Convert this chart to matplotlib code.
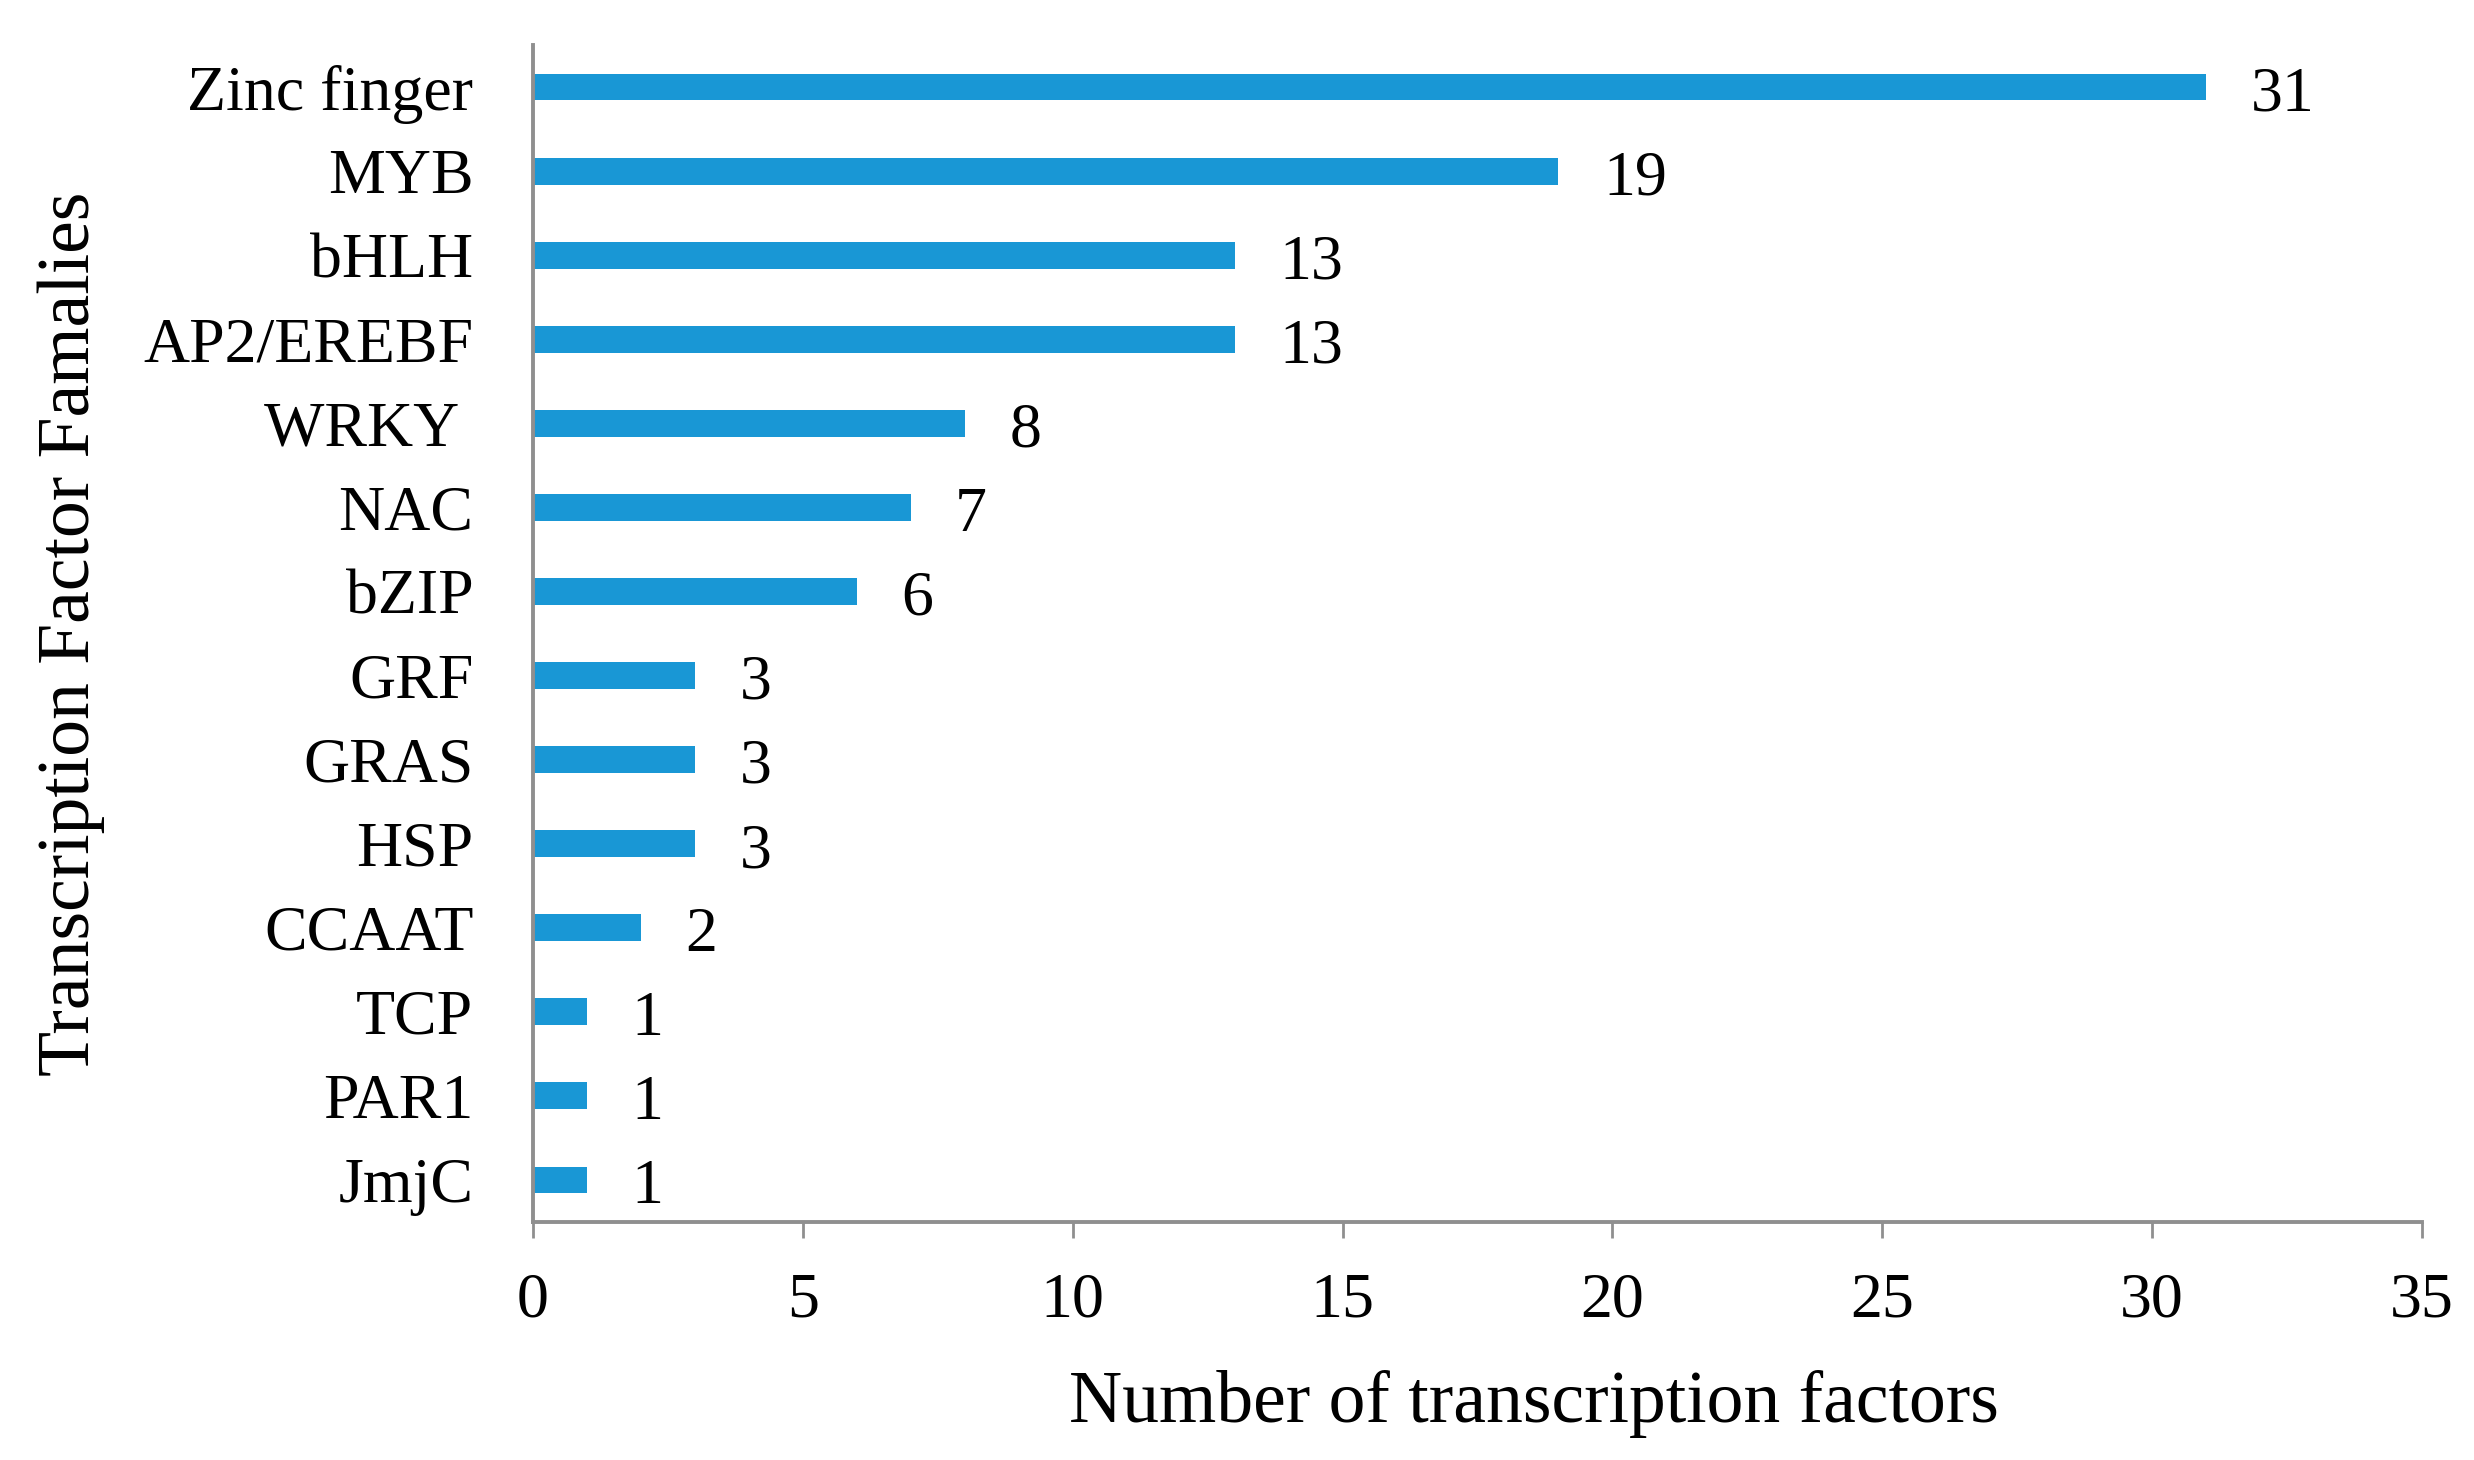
import matplotlib
matplotlib.use("Agg")
import matplotlib.pyplot as plt

# data (top to bottom)
families = ['Zinc finger', 'MYB', 'bHLH', 'AP2/EREBF', 'WRKY ', 'NAC', 'bZIP',
            'GRF', 'GRAS', 'HSP', 'CCAAT', 'TCP', 'PAR1', 'JmjC']
counts = [31, 19, 13, 13, 8, 7, 6, 3, 3, 3, 2, 1, 1, 1]
xticks = [0, 5, 10, 15, 20, 25, 30, 35]

plt.rcParams['font.family'] = ['Liberation Serif', 'DejaVu Serif']

fig = plt.figure(figsize=(24.74, 14.60), dpi=100)
ax = fig.add_axes([533 / 2474, 1 - 1222 / 1460, 1889 / 2474, 1177 / 1460])

pos = list(range(len(families)))
ax.barh(pos, counts, height=0.32, color='#1997D5')
for p, c in zip(pos, counts):
    ax.annotate(str(c), xy=(c, p), xytext=(32, -6), textcoords='offset points',
                ha='left', va='center', fontsize=46)

ax.set_xlim(0, 35)
ax.set_ylim(len(families) - 0.5, -0.5)
ax.set_xticks(xticks)
ax.set_yticks(pos)
ax.set_yticklabels(families)

for s in ['top', 'right']:
    ax.spines[s].set_visible(False)
for s in ['left', 'bottom']:
    ax.spines[s].set_color('#8f8f8f')
    ax.spines[s].set_linewidth(2.8)

ax.tick_params(axis='x', direction='out', length=11.5, width=2, color='#8f8f8f',
               labelsize=46, pad=25)
ax.tick_params(axis='y', length=0, labelsize=46, pad=43)

ax.set_xlabel('Number of transcription factors', fontsize=53, va='center')
ax.set_ylabel('Transcription Factor Famalies', fontsize=53, va='center')
ax.xaxis.set_label_coords(0.530, -0.155)
ax.yaxis.set_label_coords(-0.2446, 0.5)

fig.savefig('out.png', dpi=100)
